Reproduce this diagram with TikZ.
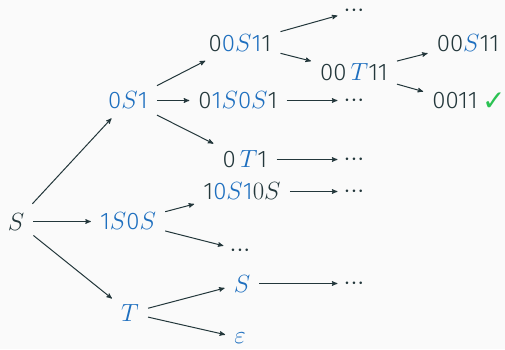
\documentclass[tikz,border=0pt]{standalone}
\usepackage[no-math]{fontspec}
\setmainfont{Fira Sans Light}
\newfontfamily\symfont{DejaVu Sans}
\usepackage{tikz}
\usetikzlibrary{arrows}

\definecolor{darkslate}{HTML}{23373B}
\definecolor{stepblue}{HTML}{1E6FBF}
\definecolor{okgreen}{HTML}{2BC253}
\definecolor{paper}{HTML}{FAFAFA}
\newcommand{\rep}[1]{\textcolor{stepblue}{#1}}
\newcommand{\more}{${\cdot}{\cdot}{\cdot}$}

\tikzset{
  word/.style={inner sep=9pt,text=darkslate,font=\fontsize{24}{28}\selectfont},
  etc/.style={word,inner sep=6pt,text height=12pt,text depth=-8pt},
  derive/.style={darkslate,->,line width=1pt},
}

\begin{document}
\begin{tikzpicture}[x=1pt,y=1pt]
\fill[paper] (0,0) rectangle (505,349);
\useasboundingbox (0,0) rectangle (505,349);
\begin{scope}[>=stealth']

    % first step
    \node[word] (s)   at (16,127.5)  {$S$};
    \node[word] (a)   at (128,248.5) {\rep{0$S$1}};
    \node[word] (b)   at (128,127.5) {\rep{1$S$0$S$}};
    \node[word] (c)   at (130,36)    {\rep{$T$}};

    % second step
    \node[word] (aa)  at (240,306)   {0\rep{0$S$1}1};
    \node[word] (ab)  at (238,248.5) {0\rep{1$S$0$S$}1};
    \node[word] (ac)  at (245,189.5) {0\,\rep{$T$}1};
    \node[word] (ba)  at (242,157.5) {1\rep{0$S$1}$0S$};
    \node[etc]  (bb)  at (240,99)    {\more};
    \node[word] (ca)  at (242,65.5)  {\rep{$S$}};
    \node[word] (cb)  at (240,11)    {\rep{$\varepsilon$}};

    % third step
    \node[etc]  (aa1) at (354,338)   {\more};
    \node[word] (aa2) at (354,277)   {00\,\rep{$T$}11};
    \node[etc]  (ab1) at (354,248.5) {\more};
    \node[etc]  (ac1) at (354,189.5) {\more};
    \node[etc]  (ba1) at (354,157.5) {\more};
    \node[etc]  (ca1) at (354,65.5)  {\more};

    % fourth step
    \node[word] (aa21) at (468,306) {00\rep{$S$}11};
    \node[word] (aa22) at (455,248.5) {0011};
    \node[word,inner sep=0pt,anchor=west] (ok) at (482,247)
        {\fontsize{28}{30}\symfont\textcolor{okgreen}{✓}};

    \draw[derive] (s) -- (a);
    \draw[derive] (s) -- (b);
    \draw[derive] (s) -- (c);
    \draw[derive] (a) -- (aa);
    \draw[derive] (a) -- (ab);
    \draw[derive] (a) -- (ac);
    \draw[derive] (b) -- (ba);
    \draw[derive] (b) -- (bb);
    \draw[derive] (c) -- (ca);
    \draw[derive] (c) -- (cb);
    \draw[derive] (aa) -- (aa1);
    \draw[derive] (aa) -- (aa2);
    \draw[derive] (ab) -- (ab1);
    \draw[derive] (ac) -- (ac1);
    \draw[derive] (ba) -- (ba1);
    \draw[derive] (ca) -- (ca1);
    \draw[derive] (aa2) -- (aa21);
    \draw[derive] (aa2) -- (aa22);
\end{scope}
\end{tikzpicture}
\end{document}
